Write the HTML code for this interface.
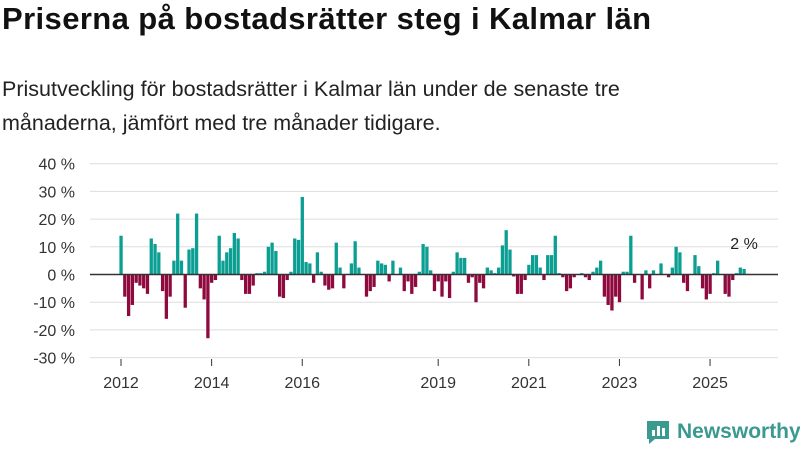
<!DOCTYPE html>
<html><head><meta charset="utf-8"><style>
body{margin:0;width:800px;height:450px;background:#fff;font-family:"Liberation Sans",sans-serif;color:#222;overflow:hidden;position:relative}
h1{position:absolute;left:2px;top:1px;margin:0;font-size:31px;letter-spacing:0.4px;font-weight:bold;color:#111}
p{position:absolute;left:2px;top:72px;margin:0;font-size:21.5px;line-height:34px;color:#222;width:715px}
</style></head><body>
<h1>Priserna på bostadsrätter steg i Kalmar län</h1>
<p>Prisutveckling för bostadsrätter i Kalmar län under de senaste tre månaderna, jämfört med tre månader tidigare.</p>
<svg id="chart" width="800" height="450" style="position:absolute;left:0;top:0" font-family="Liberation Sans, sans-serif"></svg>
<div style="position:absolute;left:645px;top:419px;display:flex;align-items:center;color:#3a9a8f;font-size:21px;font-weight:bold">
<svg width="26" height="26" viewBox="0 0 26 26"><path d="M2 2h22v18H10l-6 5v-5H2z" fill="#3a9a8f"/><rect x="7" y="11" width="3" height="6" fill="#fff"/><rect x="12" y="7" width="3" height="10" fill="#fff"/><rect x="17" y="9" width="3" height="8" fill="#fff"/></svg>
<span style="margin-left:6px">Newsworthy</span></div>
<script>
const values = [14,-8,-15,-11,-3,-4,-5,-7,13,11,8,-6,-16,-8,5,22,5,-12,9,9.5,22,-5,-9,-23,-3,-2,14,5,8,9.5,15,13,-2,-7,-7,-4,0.5,0.5,1,10,11.5,8.5,
-8,-8.5,-2,1,13,12.5,28,4.5,4,-3,8,1,-4,-5.5,-5,11.5,2.5,-5,0,4,12,2.5,0,-8,-6,-4.5,5,4,3.5,-2.5,5,0,2.5,-6,-2.5,-7,-4.5,1,11,10,1.5,-6,
-2.5,-8,-2.5,-8.5,1,8,6,6,-3,-1,-10,-3,-5,2.5,1.5,0.5,2.5,10.5,16,9,-0.7,-7,-7,-2,3.5,7,7,2.5,-2,7,7,14,0.5,-1,-6,-5,-1,0,0.5,-1,-2,1,2.5,
5,-8,-11,-13,-8,-10,1,1,14,-3,0,-9,1.5,-5,1.5,0,4,0,-1,2.5,10,8,-3,-6,0,7,3,-5,-9,-7,0.5,5,0,-7,-8,-2,0.5,2.5,2];
const yTicks = [40,30,20,10,0,-10,-20,-30];
const xTickYears = [2012,2014,2016,2019,2021,2023,2025];
const startYear = 2012;
const lastLabel = "2 %";
const svg = document.getElementById('chart');
const NS = 'http://www.w3.org/2000/svg';
const y = v => 274.5 - v * 2.77;
const x = m => 121 + m * 3.776;
function mk(t, a){const e=document.createElementNS(NS,t);for(const k in a)e.setAttribute(k,a[k]);svg.appendChild(e);return e;}
yTicks.forEach(t=>{
  if(t!==0){const g=mk('line',{x1:90,x2:778,y1:y(t),y2:y(t),stroke:'#dedede','stroke-width':1});
  
  }
  const l=mk('text',{x:75,y:y(t)+6,'text-anchor':'end','font-size':16,fill:'#333'});
  
  
  l.textContent=t+' %';
});
values.forEach((v,i)=>{
  const y0=y(0),y1=y(v);
  const r=mk('rect',{x:x(i)-1.6,width:3.3,y:Math.min(y0,y1),height:Math.abs(y1-y0),fill:v>=0?'#0b9e92':'#8e0a3e'});
  
  
});
const zl=mk('line',{x1:90,x2:778,y1:y(0),y2:y(0),stroke:'#333','stroke-width':1.5});


xTickYears.forEach(yr=>{
  const m=(yr-startYear)*12;
  const t=mk('line',{x1:x(m),x2:x(m),y1:359,y2:366,stroke:'#333'});
  
  
  const l=mk('text',{x:x(m),y:388,'text-anchor':'middle','font-size':16,fill:'#333'});
  
  
  l.textContent=yr;
});
const lb=mk('text',{x:x(values.length-1),y:y(values[values.length-1])-20,'text-anchor':'middle','font-size':16,fill:'#222'});


lb.textContent=lastLabel;
</script>
</body></html>
